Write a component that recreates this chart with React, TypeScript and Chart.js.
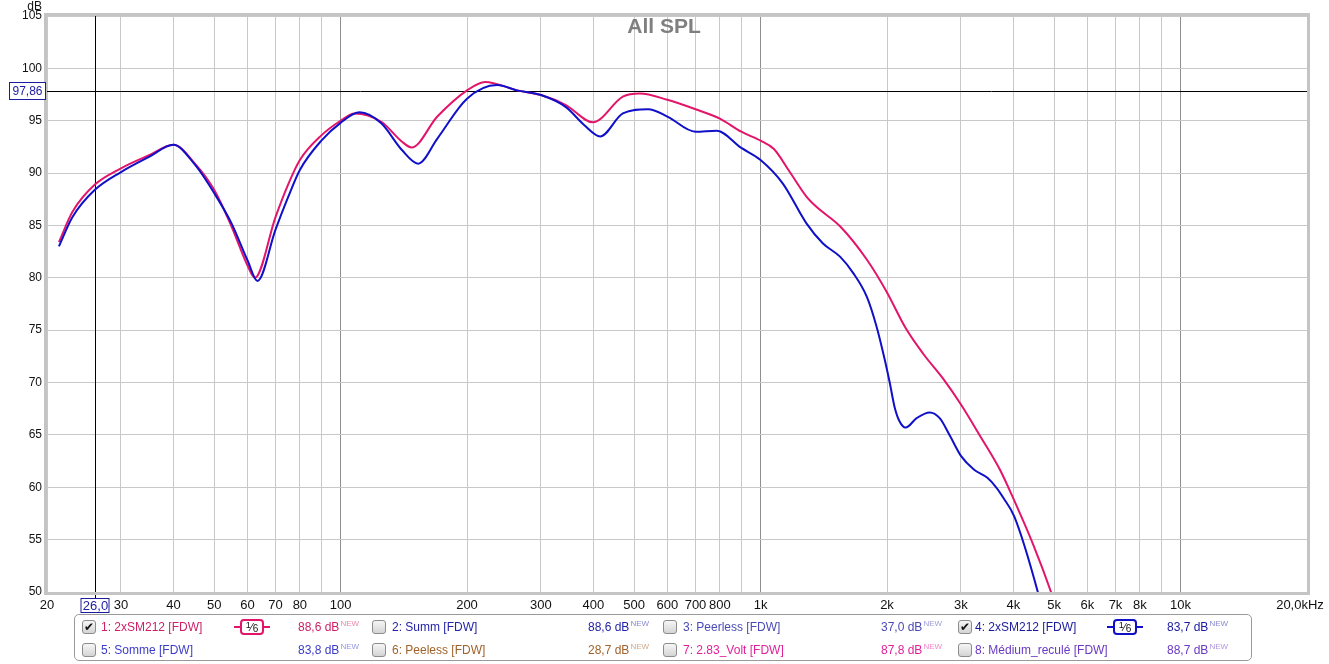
import React, { useEffect, useRef } from 'react';
import { Chart, registerables } from 'chart.js';

Chart.register(...registerables);

// ---- data ----
const blueFreq = [21.35, 23, 26, 30, 35, 40, 45, 50, 55, 60, 63.4, 70, 75, 80, 90, 100, 111, 125, 140, 153, 170, 200, 236, 263, 300, 344, 380, 415, 470, 540, 600, 700, 786, 900, 1000, 1130, 1286, 1406, 1548, 1662, 1790, 1887, 1975, 2030, 2084, 2142, 2215, 2352, 2528, 2670, 2826, 3000, 3220, 3468, 3646, 3784, 4020, 4572, 4800];
const blueSpl = [83.0, 85.8, 88.4, 90.1, 91.55, 92.7, 90.8, 88.1, 85.2, 81.7, 79.7, 84.6, 87.7, 90.3, 93.1, 94.8, 95.8, 94.75, 92.2, 90.9, 93.3, 97.1, 98.4, 97.9, 97.45, 96.3, 94.6, 93.5, 95.7, 96.1, 95.4, 93.95, 94.05, 92.4, 91.25, 89.0, 85.2, 83.3, 82.0, 80.45, 78.2, 75.4, 72.2, 70.0, 67.7, 66.3, 65.7, 66.6, 67.15, 66.6, 64.9, 63.0, 61.7, 60.9, 59.95, 59.0, 57.2, 50.0, 46.5];

const redFreq = [21.35, 23, 26, 30, 35, 40, 45, 50, 55, 60, 62.5, 70, 75, 80, 90, 100, 108, 125, 140, 147.6, 170, 200, 221, 263, 300, 344, 399, 470, 516, 600, 700, 800, 900, 1000, 1076, 1174, 1286, 1356, 1548, 1790, 1994, 2215, 2444, 2728, 3000, 3332, 3713, 3975, 4460, 4916, 5200];
const redSpl = [83.4, 86.3, 88.9, 90.45, 91.7, 92.7, 90.9, 88.4, 84.9, 81.2, 80.0, 85.8, 88.9, 91.25, 93.6, 95.0, 95.7, 94.9, 93.0, 92.45, 95.4, 97.9, 98.7, 97.9, 97.45, 96.5, 94.85, 97.3, 97.6, 97.0, 96.1, 95.2, 93.95, 93.1, 92.3, 90.1, 87.75, 86.8, 84.9, 81.75, 78.7, 75.2, 72.7, 70.3, 67.9, 64.9, 61.7, 59.15, 54.5, 50.0, 47.0];

const xTickValues = [20, 30, 40, 50, 60, 70, 80, 90, 100, 200, 300, 400, 500, 600, 700, 800, 900, 1000, 2000, 3000, 4000, 5000, 6000, 7000, 8000, 9000, 10000, 20000];
const xTickLabels = ['20', '30', '40', '50', '60', '70', '80', '', '100', '200', '300', '400', '500', '600', '700', '800', '', '1k', '2k', '3k', '4k', '5k', '6k', '7k', '8k', '', '10k', ''];
const xEndLabel = '20,0kHz';
const yTickValues = [50, 55, 60, 65, 70, 75, 80, 85, 90, 95, 100, 105];
const decades = [100, 1000, 10000];

const cursorFreq = 26;
const cursorFreqLabel = '26,0';
const cursorSpl = 97.86;
const cursorSplLabel = '97,86';

const legendLabels = ['1: 2xSM212 [FDW]', '2: Summ [FDW]', '3: Peerless [FDW]', '4: 2xSM212 [FDW]', '5: Somme [FDW]', '6: Peeless [FDW]', '7: 2.83_Volt [FDW]', '8: Médium_reculé [FDW]'];
const legendValues = ['88,6', '88,6', '37,0', '83,7', '83,8', '28,7', '87,8', '88,7'];
const legendChecked = [true, false, false, true, false, false, false, false];
const legendColors = ['#cc1f66', '#2424a8', '#4a4ab8', '#1a1aa0', '#3c3cc8', '#a0622a', '#e0209a', '#6a3ac4'];

const RED = '#e2156b';
const BLUE = '#1010c8';
const FONT = '"Liberation Sans", Arial, sans-serif';

const colX = { box: [82, 372, 663, 958], text: [101, 392, 683, 975], value: [298, 588, 881, 1167] };
const rowY = [627, 650];

const overlayPlugin = {
  id: 'overlay',
  beforeDatasetsDraw(chart: any) {
    const { ctx, chartArea, scales } = chart;
    const xp = Math.round(scales.x.getPixelForValue(cursorFreq)) + 0.5;
    const yp = Math.round(scales.y.getPixelForValue(cursorSpl)) + 0.5;
    ctx.save();
    ctx.strokeStyle = '#000';
    ctx.lineWidth = 1;
    ctx.beginPath();
    ctx.moveTo(xp, chartArea.top);
    ctx.lineTo(xp, 598);
    ctx.moveTo(45, yp);
    ctx.lineTo(chartArea.right, yp);
    ctx.stroke();
    ctx.restore();
  },
  afterDatasetsDraw(chart: any) {
    const { ctx } = chart;
    ctx.save();
    ctx.font = `bold 21px ${FONT}`;
    ctx.fillStyle = '#7f7f7f';
    ctx.textAlign = 'center';
    ctx.textBaseline = 'middle';
    ctx.fillText('All SPL', 664, 27);
    ctx.restore();
  },
  afterDraw(chart: any) {
    const { ctx, chartArea, scales } = chart;
    ctx.save();
    ctx.strokeStyle = '#c4c4c4';
    ctx.lineWidth = 3;
    ctx.strokeRect(chartArea.left - 1.5, chartArea.top - 1.5, chartArea.right - chartArea.left + 3, chartArea.bottom - chartArea.top + 3);
    // dB label
    ctx.font = `12px ${FONT}`;
    ctx.fillStyle = '#111';
    ctx.textAlign = 'right';
    ctx.textBaseline = 'middle';
    ctx.fillText('dB', 42, 7);
    // end label of x axis
    ctx.font = `13px ${FONT}`;
    ctx.textAlign = 'center';
    ctx.fillText(xEndLabel, 1300, 605);
    // cursor boxes
    const xp = Math.round(scales.x.getPixelForValue(cursorFreq)) + 0.5;
    const yp = Math.round(scales.y.getPixelForValue(cursorSpl)) + 0.5;
    ctx.lineWidth = 1;
    ctx.strokeStyle = '#1c1ca0';
    ctx.fillStyle = '#fff';
    ctx.fillRect(9.5, yp - 9, 36, 17);
    ctx.strokeRect(9.5, yp - 9, 36, 17);
    ctx.fillRect(xp - 14.5, 598.5, 28, 14);
    ctx.strokeRect(xp - 14.5, 598.5, 28, 14);
    ctx.fillStyle = '#1c1ca0';
    ctx.textAlign = 'center';
    ctx.font = `12px ${FONT}`;
    ctx.fillText(cursorSplLabel, 27.5, yp);
    ctx.font = `13px ${FONT}`;
    ctx.fillText(cursorFreqLabel, xp, 606);
    ctx.restore();
  },
};

function Checkbox({ x, y, checked }: { x: number; y: number; checked: boolean }) {
  return (
    <div
      style={{
        position: 'absolute', left: x, top: y - 7, width: 12, height: 12,
        border: '1px solid #8c8c8c', borderRadius: 3,
        background: 'linear-gradient(#f6f6f6, #d4d4d4)',
        display: 'flex', alignItems: 'center', justifyContent: 'center',
        fontSize: 12, lineHeight: '12px', color: '#111', fontFamily: '"DejaVu Sans", sans-serif',
      }}
    >
      {checked ? '✔' : ''}
    </div>
  );
}

function SmoothIcon({ x, y, color }: { x: number; y: number; color: string }) {
  return (
    <div style={{ position: 'absolute', left: x, top: y - 8, width: 36, height: 16, display: 'flex', alignItems: 'center' }}>
      <div style={{ width: 6, height: 2, background: color }} />
      <div
        style={{
          width: 20, height: 12, border: `2px solid ${color}`, borderRadius: 4,
          display: 'flex', alignItems: 'center', justifyContent: 'center',
          fontFamily: FONT, fontSize: 11, color: '#111', lineHeight: '12px', boxSizing: 'content-box',
        }}
      >
        <span style={{ fontSize: 9, position: 'relative', top: -2 }}>1</span>
        <span style={{ fontSize: 11 }}>⁄</span>
        <span style={{ fontSize: 10, position: 'relative', top: 2 }}>6</span>
      </div>
      <div style={{ width: 6, height: 2, background: color }} />
    </div>
  );
}

export default function App() {
  const canvasRef = useRef<HTMLCanvasElement | null>(null);

  useEffect(() => {
    const canvas = canvasRef.current;
    if (!canvas) return;
    const chart = new Chart(canvas, {
      type: 'line',
      data: {
        datasets: [
          {
            label: '4: 2xSM212 [FDW]',
            data: blueFreq.map((f, i) => ({ x: f, y: blueSpl[i] })),
            borderColor: BLUE,
            borderWidth: 2,
            pointRadius: 0,
            fill: false,
            cubicInterpolationMode: 'monotone',
          },
          {
            label: '1: 2xSM212 [FDW]',
            data: redFreq.map((f, i) => ({ x: f, y: redSpl[i] })),
            borderColor: RED,
            borderWidth: 2,
            pointRadius: 0,
            fill: false,
            cubicInterpolationMode: 'monotone',
          },
        ],
      },
      options: {
        responsive: false,
        animation: false,
        devicePixelRatio: 1,
        events: [],
        layout: { padding: { left: 0, right: 22, top: 16, bottom: 0 }, autoPadding: false },
        plugins: { legend: { display: false }, tooltip: { enabled: false }, title: { display: false } },
        scales: {
          x: {
            type: 'logarithmic',
            min: 20,
            max: 20000,
            afterBuildTicks: (s: any) => { s.ticks = xTickValues.map((v) => ({ value: v })); },
            afterFit: (s: any) => { s.height = 72; },
            grid: {
              color: (c: any) => (decades.includes(c.tick?.value) ? '#8e8e8e' : '#c8c8c8'),
              drawTicks: false,
              lineWidth: 1,
            },
            border: { display: false },
            ticks: {
              autoSkip: false,
              maxRotation: 0,
              minRotation: 0,
              padding: 6,
              color: '#111',
              font: { family: FONT, size: 13 },
              callback: (v: any) => {
                const i = xTickValues.indexOf(Number(v));
                return i >= 0 ? xTickLabels[i] : '';
              },
            },
          },
          y: {
            type: 'linear',
            min: 50,
            max: 105,
            afterBuildTicks: (s: any) => { s.ticks = yTickValues.map((v) => ({ value: v })); },
            afterFit: (s: any) => { s.width = 47; },
            grid: { color: '#c8c8c8', drawTicks: false, lineWidth: 1 },
            border: { display: false },
            ticks: {
              padding: 5,
              color: '#111',
              font: { family: FONT, size: 12 },
              callback: (v: any) => String(v),
            },
          },
        },
      } as any,
      plugins: [overlayPlugin],
    });
    return () => chart.destroy();
  }, []);

  return (
    <div style={{ position: 'absolute', left: 0, top: 0, width: 1329, height: 664, background: '#fff', overflow: 'hidden' }}>
      <canvas ref={canvasRef} width={1329} height={664} style={{ display: 'block', width: 1329, height: 664 }} />
      <div
        style={{
          position: 'absolute', left: 74, top: 614, width: 1178, height: 47,
          border: '1px solid #9a9a9a', borderRadius: 5, boxSizing: 'border-box',
        }}
      />
      {legendLabels.map((label, i) => {
        const col = i % 4;
        const row = Math.floor(i / 4);
        const y = rowY[row];
        const color = legendColors[i];
        return (
          <React.Fragment key={i}>
            <Checkbox x={colX.box[col]} y={y} checked={legendChecked[i]} />
            <div style={{ position: 'absolute', left: colX.text[col], top: y - 8, fontFamily: FONT, fontSize: 12, lineHeight: '16px', color, whiteSpace: 'nowrap' }}>
              {label}
            </div>
            {legendChecked[i] && <SmoothIcon x={col === 0 ? 234 : 1107} y={y} color={i === 0 ? RED : BLUE} />}
            <div style={{ position: 'absolute', left: colX.value[col], top: y - 8, fontFamily: FONT, fontSize: 12, lineHeight: '16px', color, whiteSpace: 'nowrap' }}>
              {legendValues[i]} dB
              <span style={{ fontSize: 8, position: 'relative', top: -5, opacity: 0.55, marginLeft: 1 }}>NEW</span>
            </div>
          </React.Fragment>
        );
      })}
    </div>
  );
}
